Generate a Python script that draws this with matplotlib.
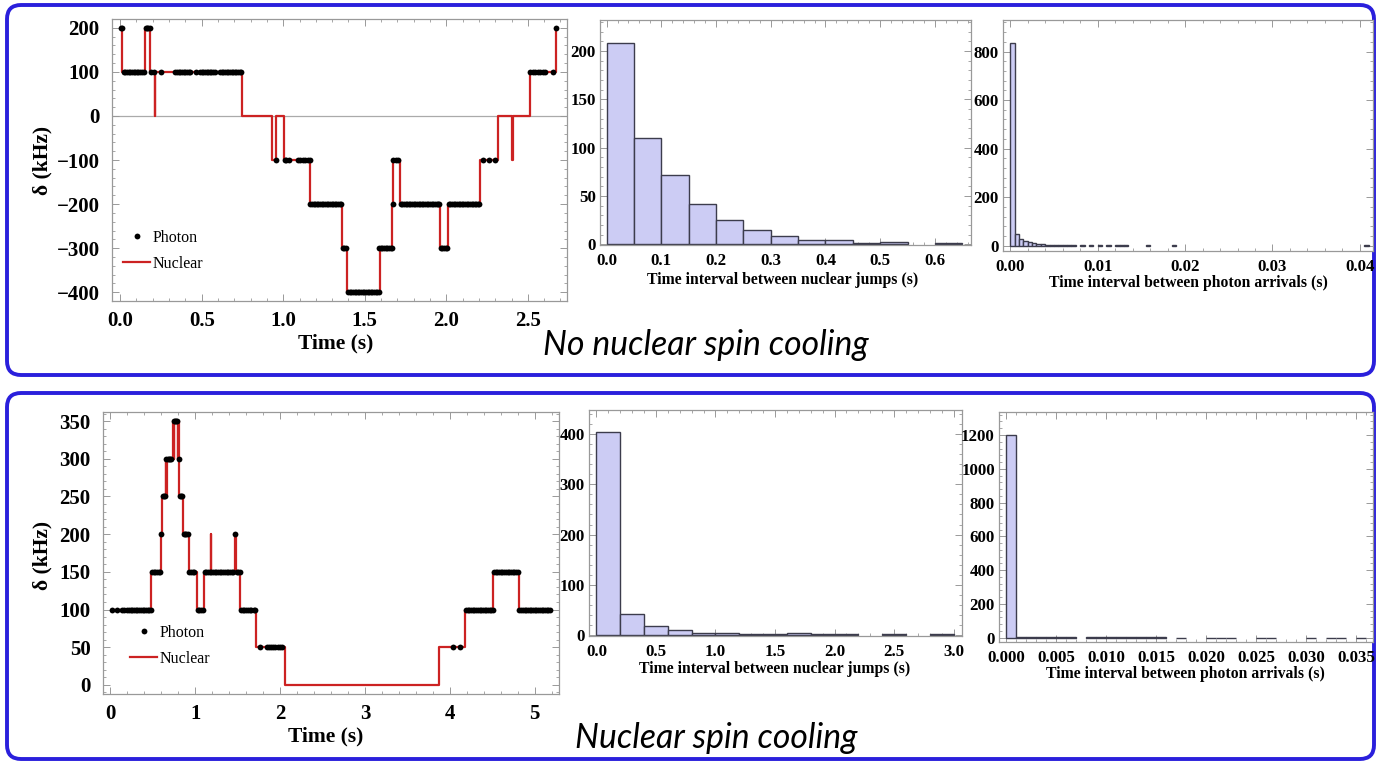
import numpy as np
import matplotlib
matplotlib.use("Agg")
import matplotlib.pyplot as plt
from matplotlib.patches import FancyBboxPatch
from matplotlib.lines import Line2D
from matplotlib.ticker import AutoMinorLocator, FormatStrFormatter, MultipleLocator

W, H = 1377, 762

# ---------------- DATA: top row (no nuclear spin cooling) ----------------
top_nuc_t = [0.003, 0.014, 0.153, 0.184, 0.212, 0.216, 0.745, 0.929, 0.954, 1.005,
             1.164, 1.362, 1.393, 1.593, 1.669, 1.673, 1.716, 1.961, 2.012, 2.206,
             2.314, 2.402, 2.406, 2.512, 2.672, 2.676]
top_nuc_d = [200, 100, 200, 100, 0, 100, 0, -100, 0, -100,
             -200, -300, -400, -300, -200, -100, -200, -300, -200, -100,
             0, -100, 0, 100, 200, 200]

top_ph_200 = [0.004, 0.013, 0.156, 0.164, 0.172, 0.180, 2.672]
top_ph_100 = [0.022, 0.032, 0.042, 0.052, 0.062, 0.072, 0.082, 0.092, 0.102, 0.112, 0.122, 0.134, 0.145,
              0.190, 0.205, 0.250,
              0.338, 0.348, 0.358, 0.368, 0.378, 0.390, 0.400, 0.410, 0.420, 0.430,
              0.466,
              0.490, 0.500, 0.510, 0.520, 0.530, 0.540, 0.550, 0.560, 0.570, 0.580,
              0.613, 0.623, 0.633, 0.643, 0.653, 0.663, 0.673, 0.683, 0.693, 0.703, 0.713, 0.723, 0.733, 0.743,
              2.515, 2.530, 2.545, 2.560, 2.575, 2.590, 2.605, 2.655]
top_ph_m100 = [0.954, 1.008, 1.020, 1.035, 1.090, 1.105, 1.120, 1.135, 1.150, 1.162,
               1.675, 1.690, 1.705, 2.225, 2.260, 2.300]
top_ph_m200 = [1.166, 1.176, 1.186, 1.196, 1.206, 1.216, 1.226, 1.236, 1.246, 1.256,
               1.266, 1.276, 1.286, 1.296, 1.306, 1.316, 1.326, 1.336, 1.346, 1.356,
               1.671,
               1.720, 1.730, 1.740, 1.750, 1.760, 1.770, 1.780, 1.790, 1.800, 1.810,
               1.820, 1.830, 1.840, 1.850, 1.860, 1.870, 1.880, 1.890, 1.900, 1.910,
               1.920, 1.930, 1.940, 1.950, 1.958,
               2.015, 2.025, 2.035, 2.045, 2.055, 2.065, 2.075, 2.085, 2.095, 2.105,
               2.115, 2.125, 2.135, 2.145, 2.155, 2.165, 2.175, 2.185, 2.195, 2.203]
top_ph_m300 = [1.365, 1.375, 1.385, 1.588, 1.598, 1.608, 1.618, 1.628, 1.638, 1.648,
               1.658, 1.666, 1.965, 1.975, 1.985, 1.995, 2.005]
top_ph_m400 = [1.397, 1.407, 1.417, 1.427, 1.437, 1.447, 1.457, 1.467, 1.477, 1.487,
               1.497, 1.507, 1.517, 1.527, 1.537, 1.547, 1.557, 1.567, 1.577, 1.588]

top_jump_bin = 0.05
top_jump_counts = [208, 110, 72, 42, 25, 15, 9, 4, 4, 1, 2, 0, 1]

top_photon_bin = 0.0005
top_photon_counts = ([834, 50, 27, 18, 14, 10, 7, 8, 4, 3, 3, 2, 2, 2, 1, 0, 1, 0, 1, 0,
                      1, 0, 1, 0, 1, 1, 1, 0, 0, 0, 0, 1, 0, 0, 0, 0, 0, 1]
                     + [0] * 43 + [1])

# ---------------- DATA: bottom row (nuclear spin cooling) ----------------
bot_nuc_t = [0.02, 0.482, 0.600, 0.606, 0.655, 0.660, 0.665, 0.740, 0.748, 0.752,
             0.795, 0.800, 0.806, 0.812, 0.855, 0.922, 1.020, 1.106, 1.182, 1.186,
             1.465, 1.475, 1.529, 1.714, 2.059, 3.874, 4.176, 4.510, 4.810, 5.180]
bot_nuc_d = [100, 150, 200, 250, 300, 250, 300, 350, 300, 350,
             300, 350, 300, 250, 200, 150, 100, 150, 200, 150,
             200, 150, 100, 50, 0, 50, 100, 150, 100, 100]

bot_ph_100 = [0.020, 0.078, 0.137, 0.160, 0.200, 0.220, 0.240, 0.260, 0.280, 0.300,
              0.320, 0.340, 0.360, 0.380, 0.400, 0.420, 0.440, 0.460, 0.475,
              1.030, 1.050, 1.070, 1.090,
              1.540, 1.560, 1.580, 1.600, 1.620, 1.640, 1.660, 1.690, 1.710,
              4.190, 4.210, 4.230, 4.250, 4.270, 4.290, 4.310, 4.330, 4.350, 4.370,
              4.390, 4.410, 4.430, 4.450, 4.470, 4.490, 4.505,
              4.820, 4.840, 4.860, 4.880, 4.900, 4.920, 4.940, 4.960, 4.980, 5.000,
              5.020, 5.040, 5.060, 5.080, 5.100, 5.120, 5.140, 5.160, 5.175]
bot_ph_150 = [0.490, 0.510, 0.530, 0.550, 0.570, 0.590,
              0.930, 0.950, 0.970, 0.990,
              1.110, 1.130, 1.150, 1.170, 1.190, 1.210, 1.230, 1.250, 1.270, 1.290,
              1.310, 1.330, 1.350, 1.370, 1.390, 1.410, 1.430, 1.450, 1.490, 1.510, 1.525,
              4.520, 4.540, 4.560, 4.580, 4.600, 4.620, 4.640, 4.660, 4.680, 4.700,
              4.720, 4.740, 4.760, 4.780, 4.800]
bot_ph_200 = [0.603, 0.865, 0.880, 0.895, 0.910, 1.470]
bot_ph_250 = [0.615, 0.630, 0.645, 0.820, 0.835, 0.850]
bot_ph_300 = [0.660, 0.675, 0.690, 0.705, 0.720, 0.804]
bot_ph_350 = [0.745, 0.760, 0.775, 0.790]
bot_ph_50 = [1.765, 1.845, 1.870, 1.895, 1.920, 1.945, 1.970, 1.995, 2.020, 4.040, 4.120]

bot_jump_bin = 0.2
bot_jump_counts = [405, 41, 17, 10, 3, 3, 1, 2, 4, 2, 1, 0, 2, 0, 1]

bot_photon_bin = 0.001
bot_photon_counts = [1200, 2, 2, 5, 2, 2, 2, 0, 2, 2, 2, 2, 2, 2, 2, 2, 0, 1, 0, 0,
                     1, 1, 1, 0, 0, 1, 1, 0, 0, 0, 1, 0, 1, 1, 0, 1]

# ---------------- STYLE ----------------
SERIF = ["Liberation Serif", "DejaVu Serif"]
plt.rcParams["font.family"] = SERIF
plt.rcParams["font.weight"] = "bold"
plt.rcParams["axes.unicode_minus"] = True

RED = "#cc2222"
FACE = "#ccccf4"
EDGE = "#3c3c4c"
FRAME = "#999999"
BLUE = "#2a1fdc"

fig = plt.figure(figsize=(W / 100, H / 100), dpi=100)
fig.patch.set_facecolor("white")

# background frames
bg = fig.add_axes([0, 0, 1, 1], zorder=-1)
bg.set_xlim(0, W)
bg.set_ylim(H, 0)
bg.axis("off")
for (x0, y0, w, h) in [(7, 5, 1367, 370), (7, 393, 1367, 366)]:
    bg.add_patch(FancyBboxPatch((x0, y0), w, h, boxstyle="round,pad=0,rounding_size=14",
                                fill=False, edgecolor=BLUE, linewidth=2.8))


def axes_px(left, top, right, bottom):
    return fig.add_axes([left / W, 1 - bottom / H, (right - left) / W, (bottom - top) / H])


def style(ax, fs, xpad, ypad):
    for s in ax.spines.values():
        s.set_color(FRAME)
        s.set_linewidth(0.9)
    ax.tick_params(which="both", direction="in", top=True, right=True, color=FRAME)
    ax.tick_params(which="major", length=5, width=0.7)
    ax.tick_params(which="minor", length=2.5, width=0.6)
    ax.tick_params(axis="x", labelsize=fs, pad=xpad)
    ax.tick_params(axis="y", labelsize=fs, pad=ypad)
    ax.xaxis.set_minor_locator(AutoMinorLocator(5))
    ax.yaxis.set_minor_locator(AutoMinorLocator(5))
    for lab in ax.get_xticklabels() + ax.get_yticklabels():
        lab.set_fontweight("bold")


def step_plot(ax, nt, nd, photon_groups, legend_anchor):
    ax.plot(nt, nd, drawstyle="steps-post", color=RED, lw=1.6, zorder=2)
    pts_t, pts_d = [], []
    for lvl, ts in photon_groups:
        pts_t += ts
        pts_d += [lvl] * len(ts)
    ax.plot(pts_t, pts_d, "o", color="black", ms=4.2, mec="black", mew=0, zorder=3)
    handles = [Line2D([], [], marker="o", color="black", ls="none", ms=4.2, mew=0),
               Line2D([], [], color=RED, lw=1.6)]
    ax.legend(handles, ["Photon", "Nuclear"], loc="upper left", bbox_to_anchor=legend_anchor,
              frameon=False, handlelength=1.7, handletextpad=0.15, labelspacing=0.6,
              borderpad=0, borderaxespad=0,
              prop={"family": SERIF, "weight": "normal", "size": 11.5})


def hist_plot(ax, binw, counts):
    counts = np.asarray(counts, dtype=float)
    edges = np.arange(len(counts)) * binw
    m = counts > 0
    ax.bar(edges[m], counts[m], width=binw, align="edge", color=FACE, edgecolor=EDGE,
           linewidth=1.0, zorder=2)


LBL = dict(fontsize=15.5, fontweight="bold", family=SERIF)
HLBL = dict(fontsize=11.3, fontweight="bold", family=SERIF)
HFS = 12.2

# ---------- top-left ----------
ax1 = axes_px(112, 19, 567, 301)
ax1.axhline(0, color="#aaaaaa", lw=0.9, zorder=1)
step_plot(ax1, top_nuc_t, top_nuc_d,
          [(200, top_ph_200), (100, top_ph_100), (-100, top_ph_m100),
           (-200, top_ph_m200), (-300, top_ph_m300), (-400, top_ph_m400)],
          ((123 - 112) / 455, (301 - 230) / 282))
ax1.set_xlim(-0.05, 2.74)
ax1.set_ylim(-420, 220)
ax1.xaxis.set_major_locator(MultipleLocator(0.5))
ax1.xaxis.set_major_formatter(FormatStrFormatter("%.1f"))
ax1.yaxis.set_major_locator(MultipleLocator(100))
style(ax1, 15, 7, 9)

# ---------- top-middle ----------
ax2 = axes_px(600, 20, 971, 245)
hist_plot(ax2, top_jump_bin, top_jump_counts)
ax2.set_xlim(-0.012, 0.666)
ax2.set_ylim(-0.7, 232)
ax2.xaxis.set_major_locator(MultipleLocator(0.1))
ax2.xaxis.set_major_formatter(FormatStrFormatter("%.1f"))
ax2.yaxis.set_major_locator(MultipleLocator(50))
style(ax2, HFS, 6, 3)

# ---------- top-right ----------
ax3 = axes_px(1003, 20, 1373, 251)
hist_plot(ax3, top_photon_bin, top_photon_counts)
ax3.set_xlim(-0.00083, 0.0415)
ax3.set_ylim(-22, 930)
ax3.xaxis.set_major_locator(MultipleLocator(0.01))
ax3.xaxis.set_major_formatter(FormatStrFormatter("%.2f"))
ax3.yaxis.set_major_locator(MultipleLocator(200))
style(ax3, HFS, 6, 3)

# ---------- bottom-left ----------
ax4 = axes_px(103, 412, 559, 694)
step_plot(ax4, bot_nuc_t, bot_nuc_d,
          [(100, bot_ph_100), (150, bot_ph_150), (200, bot_ph_200), (250, bot_ph_250),
           (300, bot_ph_300), (350, bot_ph_350), (50, bot_ph_50)],
          ((130 - 103) / 456, (694 - 625) / 282))
ax4.set_xlim(-0.086, 5.286)
ax4.set_ylim(-12, 362)
ax4.xaxis.set_major_locator(MultipleLocator(1))
ax4.yaxis.set_major_locator(MultipleLocator(50))
style(ax4, 15, 7, 9)

# ---------- bottom-middle ----------
ax5 = axes_px(589, 410, 962, 636)
hist_plot(ax5, bot_jump_bin, bot_jump_counts)
ax5.set_xlim(-0.062, 3.07)
ax5.set_ylim(-2, 448)
ax5.xaxis.set_major_locator(MultipleLocator(0.5))
ax5.xaxis.set_major_formatter(FormatStrFormatter("%.1f"))
ax5.yaxis.set_major_locator(MultipleLocator(100))
style(ax5, HFS, 6, 3)

# ---------- bottom-right ----------
ax6 = axes_px(999, 412, 1373, 642)
hist_plot(ax6, bot_photon_bin, bot_photon_counts)
ax6.set_xlim(-0.00074, 0.0367)
ax6.set_ylim(-25, 1336)
ax6.xaxis.set_major_locator(MultipleLocator(0.005))
ax6.xaxis.set_major_formatter(FormatStrFormatter("%.3f"))
ax6.yaxis.set_major_locator(MultipleLocator(200))
style(ax6, HFS, 6, 3)

# ---------- labels ----------
def ftext(x, y, s, **kw):
    fig.text(x / W, 1 - y / H, s, ha="center", va="center", **kw)

ftext(336, 343, "Time (s)", **LBL)
ftext(326, 736, "Time (s)", **LBL)
ftext(42, 160, "δ (kHz)", rotation=90, **LBL)
ftext(42, 555, "δ (kHz)", rotation=90, **LBL)
ftext(783, 280, "Time interval between nuclear jumps (s)", **HLBL)
ftext(1188, 283, "Time interval between photon arrivals (s)", **HLBL)
ftext(775, 669, "Time interval between nuclear jumps (s)", **HLBL)
ftext(1185, 674, "Time interval between photon arrivals (s)", **HLBL)

SUB = dict(fontsize=24.3, style="italic", fontweight="normal", family=["Lato", "DejaVu Sans"])
ftext(706, 345, "No nuclear spin cooling", **SUB)
ftext(716, 738, "Nuclear spin cooling", **SUB)

fig.savefig("out.png", dpi=100, facecolor="white")
